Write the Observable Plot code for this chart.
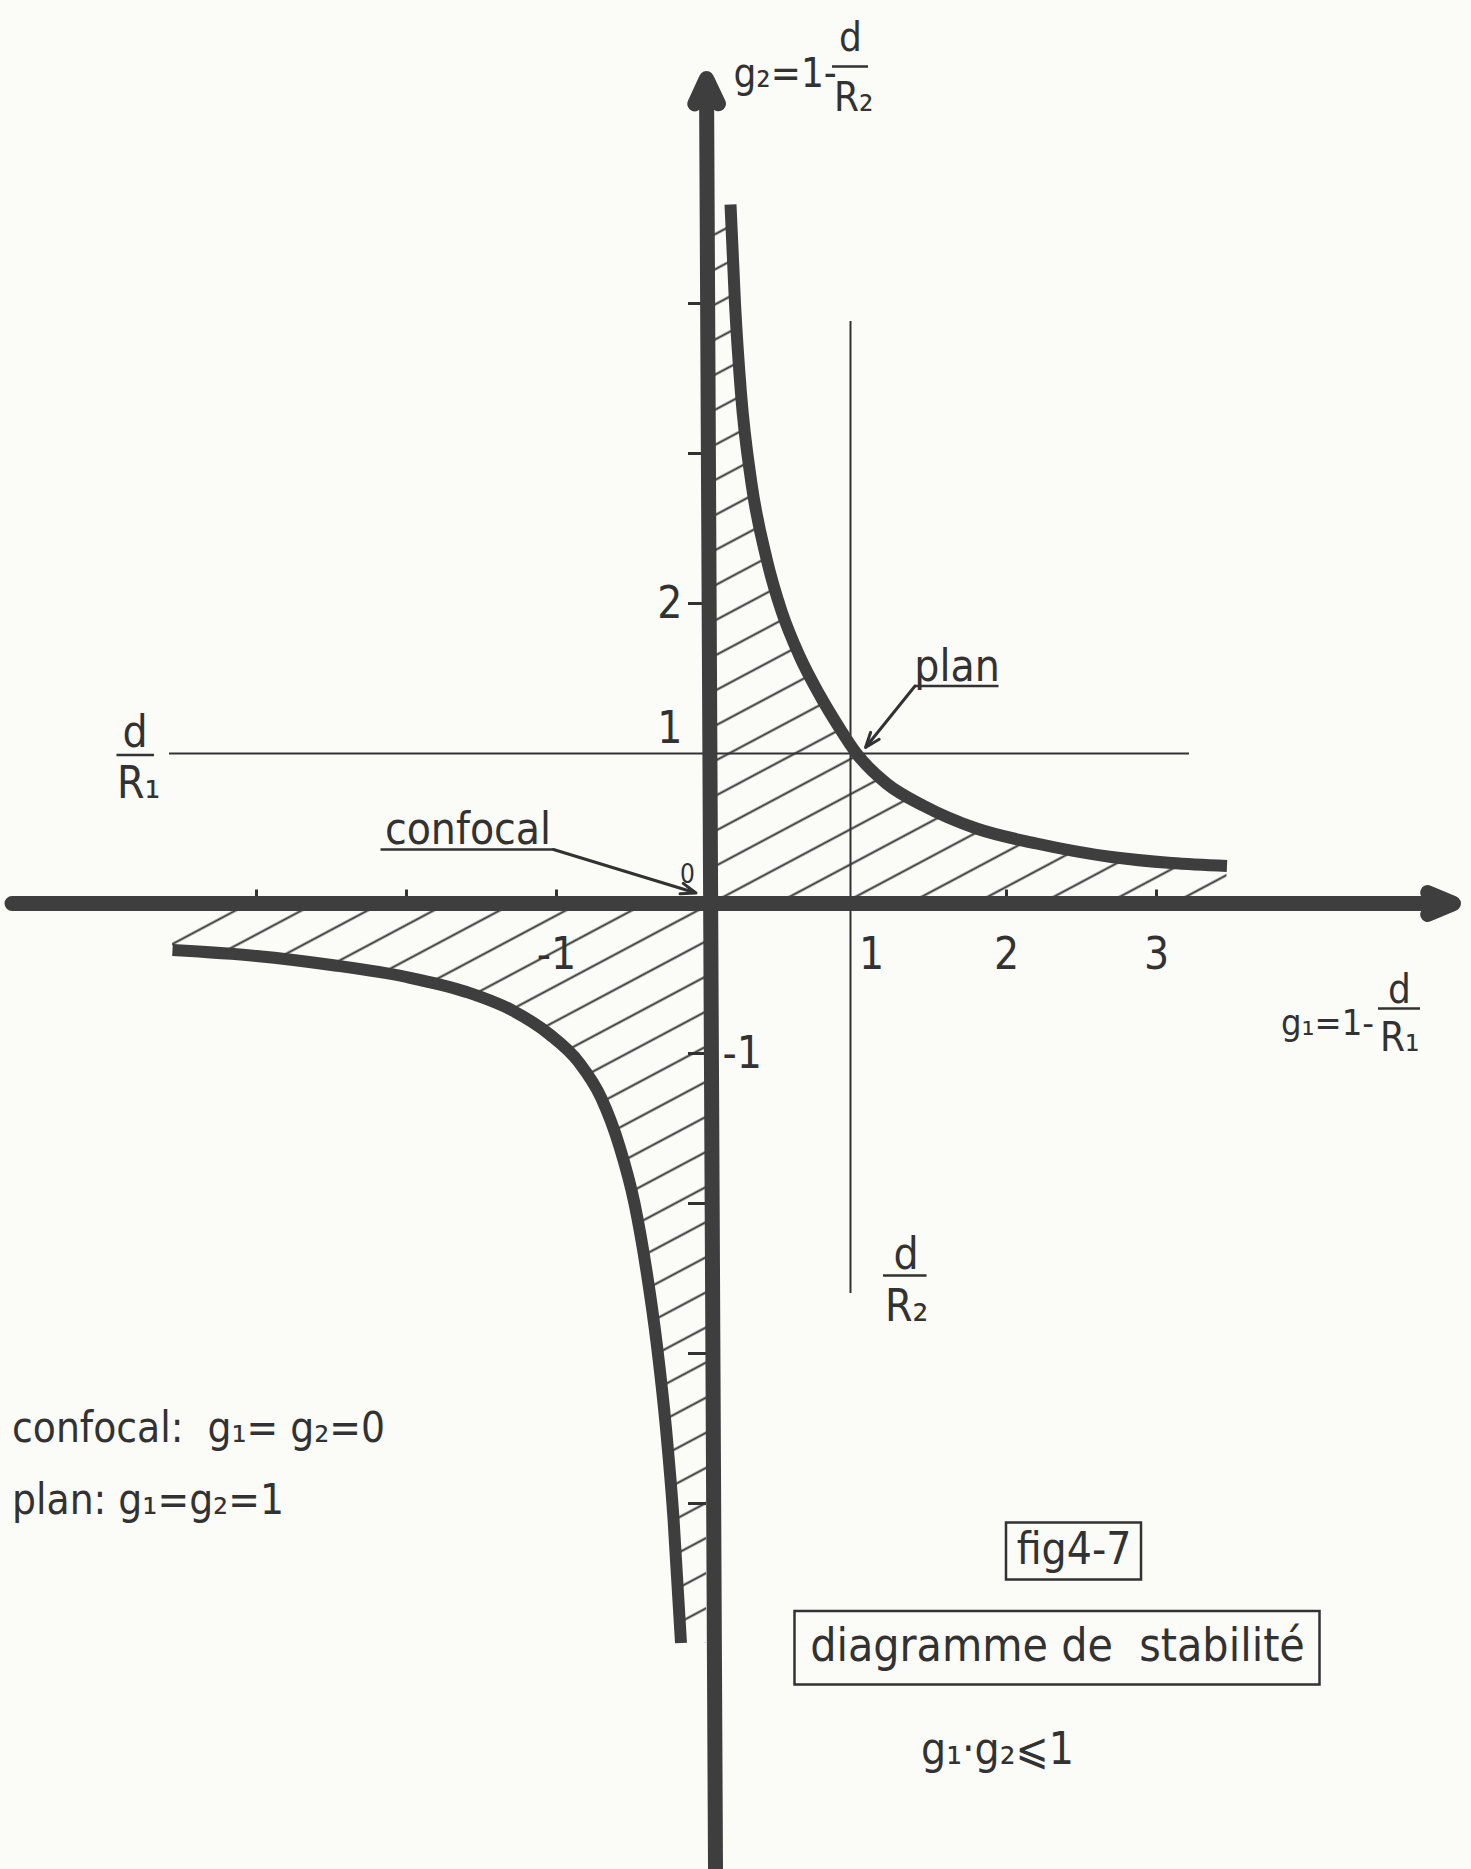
<!DOCTYPE html>
<html>
<head>
<meta charset="utf-8">
<script src="https://cdn.jsdelivr.net/npm/d3@7"></script>
<script src="https://cdn.jsdelivr.net/npm/@observablehq/plot@0.6"></script>
<style>
  html, body { margin: 0; padding: 0; background: #fbfbf8; }
  #chart svg { display: block; }
</style>
</head>
<body>
<div id="chart"></div>
<script>
// Stability diagram of a two-mirror resonator: stable when 0 <= g1·g2 <= 1.

// Hyperbola g1·g2 = 1 as drawn, [g1, g2] pairs.
const upperBranch = [
  [0.16, 4.66], [0.19, 4.0], [0.23, 3.4], [0.30, 2.8], [0.40, 2.3], [0.50, 1.95],
  [0.62, 1.65], [0.76, 1.38], [0.88, 1.18], [1.0, 1.0], [1.2, 0.8], [1.45, 0.65],
  [1.8, 0.5], [2.2, 0.4], [2.7, 0.31], [3.1, 0.27], [3.47, 0.25]
];
const lowerBranch = [
  [-3.56, -0.31], [-3.0, -0.35], [-2.5, -0.41], [-2.0, -0.49], [-1.6, -0.59],
  [-1.3, -0.71], [-1.05, -0.87], [-0.85, -1.06], [-0.70, -1.3], [-0.58, -1.62],
  [-0.48, -2.0], [-0.40, -2.45], [-0.33, -2.95], [-0.27, -3.5], [-0.22, -4.1], [-0.17, -4.93]
];

// Axes, tick marks and tick labels.
const g1Axis = [-4.63, 4.98];
const g2Axis = [-6.44, 5.5];
const g1Ticks = [-3, -2, -1, 2, 3];
const g2Ticks = [-4, -3, -2, -1, 2, 3, 4];
const g1TickLabels = [{v: -1, t: "-1"}, {v: 2, t: "2"}, {v: 3, t: "3"}];
const g1TickLabelOne = [{v: 1, t: "1"}];
const g2TickLabelsLeft = [{v: 2, t: "2"}];
const g2TickLabelsAbove = [{v: 1, t: "1"}];
const g2TickLabelsRight = [{v: -1, t: "-1"}];

// Reference lines d/R1 (g2 = 1) and d/R2 (near g1 = 1).
const dR1Line = [{v: 1, from: -3.58, to: 3.22}];
const dR2Line = [{v: 0.96, from: -2.6, to: 3.88}];

// Special resonators.
const confocalPoint = [0, 0];
const planPoint = [1, 1];

const FONT = '"DejaVu Sans Condensed", "Liberation Sans Narrow", "DejaVu Sans", sans-serif';
const INK = "#323232";
const HEAVY = "#3e3e3e";
const W = 1471, H = 1869, UNIT = 150, OX = 706, OY = 903;

// Annotation layout (g-units).
const notes = [
  {t: "g\u2082=1-", x: 0.18, y: 5.53, s: 40, a: "start"},
  {t: "d", x: 0.96, y: 5.77, s: 40, a: "middle"},
  {t: "R\u2082", x: 0.85, y: 5.37, s: 40, a: "start"},
  {t: "d", x: -3.81, y: 1.14, s: 44, a: "middle"},
  {t: "R\u2081", x: -3.93, y: 0.80, s: 44, a: "start"},
  {t: "d", x: 1.33, y: -2.34, s: 44, a: "middle"},
  {t: "R\u2082", x: 1.19, y: -2.69, s: 44, a: "start"},
  {t: "g\u2081=1-", x: 3.83, y: -0.80, s: 36, a: "start"},
  {t: "d", x: 4.62, y: -0.58, s: 40, a: "middle"},
  {t: "R\u2081", x: 4.49, y: -0.90, s: 40, a: "start"},
  {t: "confocal", x: -1.59, y: 0.49, s: 44, a: "middle"},
  {t: "plan", x: 1.67, y: 1.58, s: 44, a: "middle"},
  {t: "confocal:  g\u2081= g\u2082=0", x: -4.63, y: -3.50, s: 42, a: "start"},
  {t: "plan: g\u2081=g\u2082=1", x: -4.63, y: -3.98, s: 42, a: "start"},
  {t: "fig4-7", x: 2.45, y: -4.31, s: 44, a: "middle"},
  {t: "diagramme de  stabilité", x: 2.34, y: -4.95, s: 46, a: "middle"},
  {t: "g\u2081·g\u2082\u2A7D1", x: 1.94, y: -5.64, s: 44, a: "middle"}
];
const fractionBars = [
  {y: 5.58, x1: 0.84, x2: 1.08},
  {y: 0.99, x1: -3.93, x2: -3.68},
  {y: -2.48, x1: 1.18, x2: 1.47},
  {y: -0.70, x1: 4.48, x2: 4.76}
];
const underlines = [
  {y: 0.36, x1: -2.17, x2: -1.02},
  {y: 1.45, x1: 1.39, x2: 1.95}
];
const leaders = [
  {x1: -1.02, y1: 0.36, x2: confocalPoint[0] - 0.07, y2: confocalPoint[1] + 0.07},
  {x1: 1.39, y1: 1.45, x2: planPoint[0] + 0.06, y2: planPoint[1] + 0.04}
];
const boxes = [
  {x1: 2.00, x2: 2.90, y1: -4.13, y2: -4.51},
  {x1: 0.59, x2: 4.09, y1: -4.72, y2: -5.21}
];

const gx = d => d[0], gy = d => d[1];

const chart = Plot.plot({
  width: W,
  height: H,
  margin: 0,
  x: {domain: [-OX / UNIT, (W - OX) / UNIT], axis: null},
  y: {domain: [-(H - OY) / UNIT, OY / UNIT], axis: null},
  style: {background: "#fbfbf8", color: INK},
  marks: [
    // hatched stable regions
    Plot.areaY([[0, upperBranch[0][1]], ...upperBranch], {x: gx, y1: 0, y2: gy, fill: "url(#hatch)", curve: "monotone-x"}),
    Plot.areaY([...lowerBranch, [0, lowerBranch[lowerBranch.length - 1][1]]], {x: gx, y1: 0, y2: gy, fill: "url(#hatch)", curve: "monotone-x"}),

    // reference lines
    Plot.ruleY(dR1Line, {y: "v", x1: "from", x2: "to", stroke: INK, strokeWidth: 2}),
    Plot.ruleX(dR2Line, {x: "v", y1: "from", y2: "to", stroke: INK, strokeWidth: 2}),

    // tick marks
    Plot.ruleX(g1Ticks, {x: d => d, y1: 0, y2: 0.09, stroke: INK, strokeWidth: 3}),
    Plot.ruleY(g2Ticks, {y: d => d, x1: -0.12, x2: 0, stroke: INK, strokeWidth: 3}),

    // axes with arrow heads
    Plot.arrow([g1Axis], {x1: d => d[0], x2: d => d[1], y1: 0, y2: 0, stroke: HEAVY, strokeWidth: 15, headLength: 2.8, headAngle: 46}),
    Plot.arrow([g2Axis], {x1: 0.06, x2: 0, y1: d => d[0], y2: d => d[1], stroke: HEAVY, strokeWidth: 15, headLength: 2.8, headAngle: 50}),

    // hyperbola g1·g2 = 1
    Plot.line(upperBranch, {x: gx, y: gy, stroke: HEAVY, strokeWidth: 12, curve: "monotone-x", strokeLinecap: "butt"}),
    Plot.line(lowerBranch, {x: gx, y: gy, stroke: HEAVY, strokeWidth: 12, curve: "monotone-x", strokeLinecap: "butt"}),

    // tick labels
    Plot.text(g1TickLabels, {x: "v", y: 0, text: "t", dy: 51, fontSize: 44, fontFamily: FONT, fill: INK}),
    Plot.text(g1TickLabelOne, {x: "v", y: 0, text: "t", dy: 51, dx: 15, fontSize: 44, fontFamily: FONT, fill: INK}),
    Plot.text(g2TickLabelsLeft, {x: 0, y: "v", text: "t", dx: -24, textAnchor: "end", fontSize: 44, fontFamily: FONT, fill: INK}),
    Plot.text(g2TickLabelsAbove, {x: 0, y: "v", text: "t", dx: -24, dy: -25, textAnchor: "end", fontSize: 44, fontFamily: FONT, fill: INK}),
    Plot.text(g2TickLabelsRight, {x: 0, y: "v", text: "t", dx: 16, textAnchor: "start", fontSize: 44, fontFamily: FONT, fill: INK}),
    Plot.text([confocalPoint], {x: gx, y: gy, text: () => "0", dx: -19, dy: -29, fontSize: 26, fontFamily: FONT, fill: INK}),

    // labels and annotations
    Plot.ruleY(fractionBars, {y: "y", x1: "x1", x2: "x2", stroke: INK, strokeWidth: 2.5}),
    Plot.ruleY(underlines, {y: "y", x1: "x1", x2: "x2", stroke: INK, strokeWidth: 2.5}),
    Plot.arrow(leaders, {x1: "x1", y1: "y1", x2: "x2", y2: "y2", stroke: INK, strokeWidth: 3, headLength: 8, headAngle: 40}),
    Plot.rect(boxes, {x1: "x1", x2: "x2", y1: "y1", y2: "y2", fill: "none", stroke: INK, strokeWidth: 2.5}),
    Plot.text(notes, {x: "x", y: "y", text: "t", fontSize: "s", textAnchor: "start", fontFamily: FONT, fill: INK, filter: d => d.a === "start"}),
    Plot.text(notes, {x: "x", y: "y", text: "t", fontSize: "s", textAnchor: "middle", fontFamily: FONT, fill: INK, filter: d => d.a === "middle"})
  ]
});

// hatch pattern for the stable regions
const defs = d3.select(chart).insert("defs", ":first-child");
const pat = defs.append("pattern")
  .attr("id", "hatch")
  .attr("patternUnits", "userSpaceOnUse")
  .attr("width", 120)
  .attr("height", 31)
  .attr("patternTransform", "rotate(-28)");
pat.append("line")
  .attr("x1", 0).attr("x2", 120)
  .attr("y1", 15.5).attr("y2", 15.5)
  .attr("stroke", INK)
  .attr("stroke-width", 2);

document.getElementById("chart").append(chart);
</script>
</body>
</html>
